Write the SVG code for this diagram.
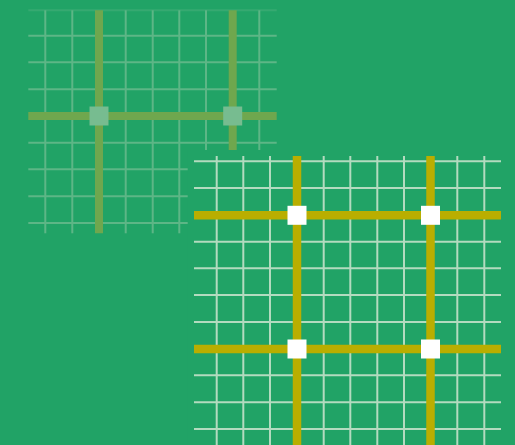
<svg xmlns="http://www.w3.org/2000/svg" width="515" height="445" viewBox="0 0 515 445">
  <style>
    .bg { fill: #21a366; }
    .thinA { stroke: #5db686; stroke-width: 2; }
    .thickA { stroke: #6fa74e; stroke-width: 8; }
    .nodeA { fill: #77bc90; }
    .thinB { stroke: #b3dbbf; stroke-width: 2; }
    .thickB { stroke: #b9ae00; stroke-width: 8.5; }
    .nodeB { fill: #ffffff; }
  </style>
  <rect class="bg" x="0" y="0" width="515" height="445"/>

  <g id="grid-back">
    <line class="thinA" x1="28.3" y1="10.3" x2="276.7" y2="10.3" opacity="0.35"/>
    <g class="thinA">
      <line x1="28.3" y1="35.7" x2="276.7" y2="35.7"/>
      <line x1="28.3" y1="62.3" x2="276.7" y2="62.3"/>
      <line x1="28.3" y1="89.3" x2="276.7" y2="89.3"/>
      <line x1="28.3" y1="142.7" x2="276.7" y2="142.7"/>
      <line x1="28.3" y1="169.3" x2="276.7" y2="169.3"/>
      <line x1="28.3" y1="196.3" x2="276.7" y2="196.3"/>
      <line x1="28.3" y1="223" x2="276.7" y2="223"/>
      <line x1="45.3" y1="10.3" x2="45.3" y2="233.3"/>
      <line x1="72.3" y1="10.3" x2="72.3" y2="233.3"/>
      <line x1="125.7" y1="10.3" x2="125.7" y2="233.3"/>
      <line x1="152.7" y1="10.3" x2="152.7" y2="233.3"/>
      <line x1="179.3" y1="10.3" x2="179.3" y2="233.3"/>
      <line x1="206" y1="10.3" x2="206" y2="233.3"/>
      <line x1="259.3" y1="10.3" x2="259.3" y2="233.3"/>
    </g>
    <g id="connectors-back" class="thickA">
      <line x1="28.3" y1="116" x2="276.7" y2="116"/>
      <line x1="99" y1="10.3" x2="99" y2="233.3"/>
      <line x1="232.7" y1="10.3" x2="232.7" y2="233.3"/>
    </g>
    <g id="nodeA1"><rect class="nodeA" x="89.5" y="106.5" width="19" height="19"/></g>
    <g id="nodeA2"><rect class="nodeA" x="223.2" y="106.5" width="19" height="19"/></g>
  </g>

  <rect class="bg" x="187.7" y="150" width="327.3" height="295"/>

  <g id="grid-front">
    <g class="thinB">
      <line x1="194" y1="161.3" x2="501" y2="161.3"/>
      <line x1="194" y1="188" x2="501" y2="188"/>
      <line x1="194" y1="241.7" x2="501" y2="241.7"/>
      <line x1="194" y1="268.3" x2="501" y2="268.3"/>
      <line x1="194" y1="295" x2="501" y2="295"/>
      <line x1="194" y1="322" x2="501" y2="322"/>
      <line x1="194" y1="375.3" x2="501" y2="375.3"/>
      <line x1="194" y1="402.3" x2="501" y2="402.3"/>
      <line x1="194" y1="429" x2="501" y2="429"/>
      <line x1="216.7" y1="156" x2="216.7" y2="445"/>
      <line x1="243.3" y1="156" x2="243.3" y2="445"/>
      <line x1="270" y1="156" x2="270" y2="445"/>
      <line x1="323.7" y1="156" x2="323.7" y2="445"/>
      <line x1="350.3" y1="156" x2="350.3" y2="445"/>
      <line x1="377.3" y1="156" x2="377.3" y2="445"/>
      <line x1="404" y1="156" x2="404" y2="445"/>
      <line x1="457.3" y1="156" x2="457.3" y2="445"/>
      <line x1="484.3" y1="156" x2="484.3" y2="445"/>
    </g>
    <g id="connectors" class="thickB">
      <line x1="194" y1="215.3" x2="501" y2="215.3"/>
      <line x1="194" y1="349" x2="501" y2="349"/>
      <line x1="297" y1="156" x2="297" y2="445"/>
      <line x1="430.5" y1="156" x2="430.5" y2="445"/>
    </g>
    <g id="nodeB1"><rect class="nodeB" x="287.5" y="205.8" width="19" height="19"/></g>
    <g id="nodeB2"><rect class="nodeB" x="421" y="205.8" width="19" height="19"/></g>
    <g id="nodeB3"><rect class="nodeB" x="287.5" y="339.5" width="19" height="19"/></g>
    <g id="nodeB4"><rect class="nodeB" x="421" y="339.5" width="19" height="19"/></g>
  </g>
</svg>
